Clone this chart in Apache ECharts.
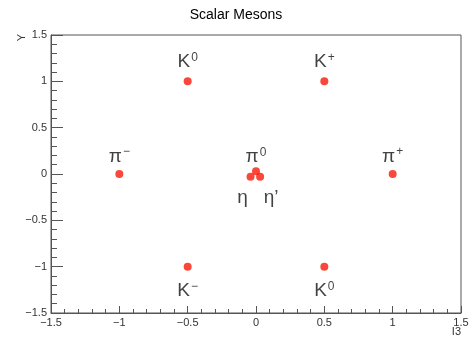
<!DOCTYPE html>
<html>
<head>
<meta charset="utf-8">
<script src="https://cdn.jsdelivr.net/npm/echarts@6/dist/echarts.min.js"></script>
<style>
  html, body { margin: 0; padding: 0; background: #fff; }
  #chart { width: 472px; height: 343px; }
</style>
</head>
<body>
<div id="chart"></div>
<script>
// meson octet (scalar nonet) positions
const mesonBase = ['K', 'K', 'π', 'π', 'π', 'η', 'η’', 'K', 'K'];
const mesonSup = ['0', '+', '−', '+', '0', '', '', '−', '0'];
const isospinI3 = [-0.5, 0.5, -1, 1, 0, -0.04, 0.03, -0.5, 0.5];
const hyperchargeY = [1, 1, 0, 0, 0.03, -0.03, -0.03, -1, -1];
const labelSide = ['top', 'top', 'top', 'top', 'top', 'bottom', 'bottom', 'bottom', 'bottom'];

const chart = echarts.init(document.getElementById('chart'));
const fontFamily = '"Liberation Sans", Arial, sans-serif';
const minus = (v) => String(v).replace('-', '\u2212');

// small nudges for the crowded centre and the pi labels
const labelOffsets = { 2: [0, 2], 3: [0, 2], 4: [0, 5], 5: [-8, -4], 6: [11, -4] };

const data = isospinI3.map((x, i) => ({
  value: [x, hyperchargeY[i]],
  label: {
    show: true,
    position: labelSide[i],
    distance: labelSide[i] === 'top' ? 5 : 10,
    offset: labelOffsets[i] || [0, 0],
    formatter: mesonSup[i] ? `{b|${mesonBase[i]}}{s|${mesonSup[i]}}` : `{b|${mesonBase[i]}}`,
  },
}));

const option = {
  animation: false,
  title: {
    text: 'Scalar Mesons',
    left: 'center',
    top: 3,
    textStyle: { fontFamily, fontSize: 14, fontWeight: 'normal', color: '#000' },
  },
  grid: {
    left: 51, right: 11, top: 35, bottom: 30,
    outerBoundsMode: 'none',
    containLabel: false,
    show: true, borderColor: '#555', borderWidth: 1,
  },
  xAxis: {
    type: 'value',
    min: -1.5, max: 1.5, interval: 0.5,
    name: 'I3',
    nameLocation: 'end',
    nameGap: 0,
    nameMoveOverlap: false,
    nameTextStyle: { fontFamily, fontSize: 11, color: '#333', align: 'right', verticalAlign: 'top', padding: [13, 0, 0, 0] },
    axisLine: { show: true, onZero: false, lineStyle: { color: '#555' } },
    axisTick: { inside: true, length: 7, lineStyle: { color: '#555' } },
    minorTick: { show: true, splitNumber: 5, length: 4, lineStyle: { color: '#555' } },
    splitLine: { show: false },
    axisLabel: { fontFamily, fontSize: 11, color: '#333', margin: 4, formatter: minus },
  },
  yAxis: {
    type: 'value',
    min: -1.5, max: 1.5, interval: 0.5,
    name: 'Y',
    nameLocation: 'end',
    nameRotate: 90,
    nameGap: 1,
    nameMoveOverlap: false,
    nameTextStyle: { fontFamily, fontSize: 11, color: '#333', align: 'right', verticalAlign: 'bottom', padding: [0, 0, 24, 0] },
    axisLine: { show: true, onZero: false, lineStyle: { color: '#555' } },
    axisTick: { inside: true, length: 12, lineStyle: { color: '#555' } },
    minorTick: { show: true, splitNumber: 5, length: 6, lineStyle: { color: '#555' } },
    splitLine: { show: false },
    axisLabel: { fontFamily, fontSize: 11, color: '#333', margin: 4, formatter: minus },
  },
  series: [{
    type: 'scatter',
    symbol: 'circle',
    symbolSize: 8,
    itemStyle: { color: '#f71a0a' },
    label: {
      color: '#111',
      rich: {
        b: { fontFamily, fontSize: 19, color: '#111', lineHeight: 21 },
        s: { fontFamily, fontSize: 12, color: '#111', lineHeight: 21, verticalAlign: 'top', padding: [0, 0, 0, 1] },
      },
    },
    data,
  }],
};

chart.setOption(option);
</script>
</body>
</html>
